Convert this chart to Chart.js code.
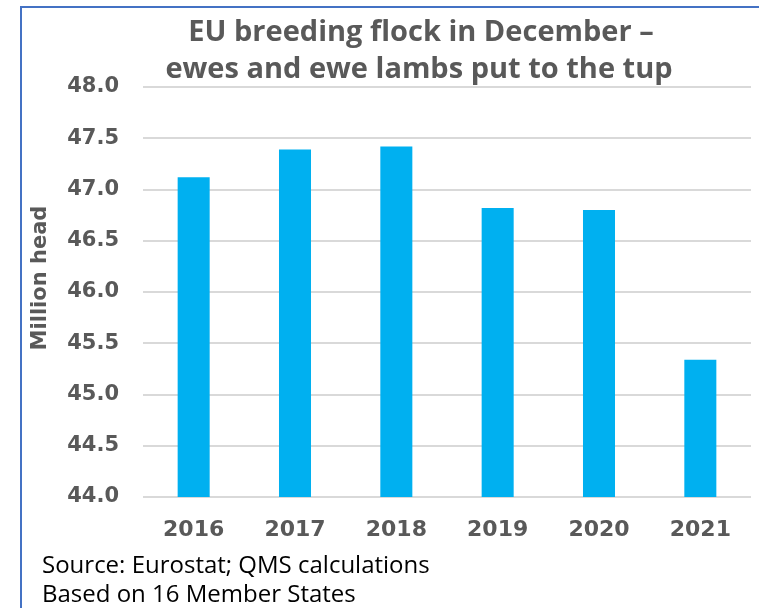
<!DOCTYPE html>
<html>
<head>
<meta charset="utf-8">
<script src="https://cdn.jsdelivr.net/npm/chart.js@4.4.0/dist/chart.umd.min.js"></script>
<style>
  html, body { margin: 0; padding: 0; background: #ffffff; }
  body { width: 759px; height: 608px; overflow: hidden; position: relative; }
  #frame { position: absolute; left: 20px; top: 6px; width: 745px; height: 610px;
           border-left: 2px solid #4472C4; border-top: 2px solid #4472C4; }
  #wrap { position: absolute; left: 22px; top: 8px; width: 737px; height: 600px; }
</style>
</head>
<body>
<div id="frame"></div>
<div id="wrap"><canvas id="c"></canvas></div>
<script>
const categories = ['2016', '2017', '2018', '2019', '2020', '2021'];
const flockValues = [47.12, 47.39, 47.42, 46.82, 46.80, 45.34];
const titleLines = ['EU breeding flock in December \u2013', 'ewes and ewe lambs put to the tup'];
const yAxisTitle = 'Million head';
const sourceLines = ['Source: Eurostat; QMS calculations', 'Based on 16 Member States'];
const yMin = 44.0, yMax = 48.0, yStep = 0.5;

const textPlugin = {
  id: 'extraText',
  afterDraw(chart) {
    const ctx = chart.ctx;
    const a = chart.chartArea;
    ctx.save();
    ctx.fillStyle = '#595959';
    ctx.textAlign = 'center';
    ctx.textBaseline = 'alphabetic';
    ctx.font = 'bold 29px "Open Sans"';
    const cx = (a.left + a.right) / 2 - 26;
    ctx.fillText(titleLines[0], cx, a.top - 46);
    ctx.fillText(titleLines[1], cx - 2, a.top - 9);

    ctx.save();
    ctx.font = 'bold 21px "DejaVu Sans"';
    ctx.translate(a.left - 102, (a.top + a.bottom) / 2 - 14);
    ctx.rotate(-Math.PI / 2);
    ctx.textBaseline = 'middle';
    ctx.fillText(yAxisTitle, 0, 0);
    ctx.restore();

    ctx.fillStyle = '#000000';
    ctx.textAlign = 'left';
    ctx.font = '24px "Open Sans"';
    sourceLines.forEach((t, i) => ctx.fillText(t, a.left - 101, a.bottom + 76 + i * 29));
    ctx.restore();
  }
};

new Chart(document.getElementById('c'), {
  type: 'bar',
  data: {
    labels: categories,
    datasets: [{
      data: flockValues,
      backgroundColor: '#00B0F0',
      borderWidth: 0,
      categoryPercentage: 1.0,
      barPercentage: 0.316
    }]
  },
  options: {
    responsive: true,
    maintainAspectRatio: false,
    animation: false,
    layout: { padding: { top: 79, right: 8, bottom: 66, left: 0 } },
    plugins: { legend: { display: false }, title: { display: false }, tooltip: { enabled: false } },
    scales: {
      x: {
        grid: { display: false, drawTicks: false },
        border: { display: false },
        ticks: { color: '#595959', font: { family: 'DejaVu Sans', weight: 'bold', size: 22 }, padding: 20, maxRotation: 0 },
        afterFit(scale) { scale.height = 45; }
      },
      y: {
        min: yMin, max: yMax,
        grid: { color: '#D9D9D9', lineWidth: 2, drawTicks: false },
        border: { display: false },
        ticks: {
          stepSize: yStep,
          color: '#595959',
          font: { family: 'DejaVu Sans', weight: 'bold', size: 21 },
          padding: 24,
          callback: v => Number(v).toFixed(1)
        },
        afterFit(scale) { scale.width = 121; }
      }
    }
  },
  plugins: [textPlugin]
});
</script>
</body>
</html>
